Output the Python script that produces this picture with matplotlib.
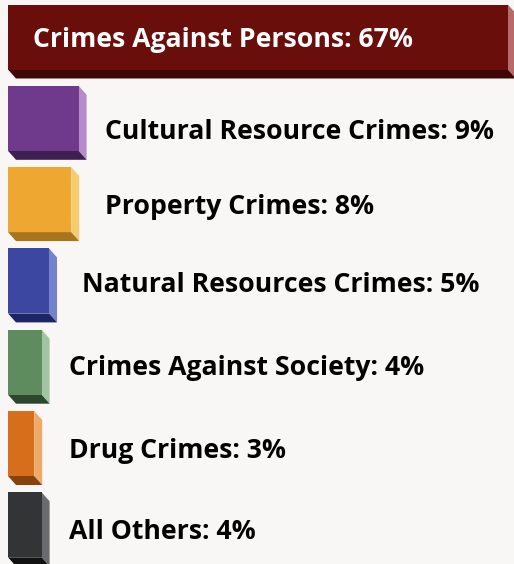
import numpy as np
import matplotlib
matplotlib.use("Agg")
import matplotlib.pyplot as plt
from matplotlib.patches import Polygon

# data
categories = [
    "Crimes Against Persons",
    "Cultural Resource Crimes",
    "Property Crimes",
    "Natural Resources Crimes",
    "Crimes Against Society",
    "Drug Crimes",
    "All Others",
]
shares = [67, 9, 8, 5, 4, 3, 4]

# colours: front face, right side, bottom
front_colors = ["#6a0e0c", "#6f3a8c", "#eea832", "#3c47a2", "#5e8c5e", "#d66e1c", "#333436"]
side_colors = ["#b86a6a", "#b48ccc", "#f5cc70", "#7482cc", "#a2c4a2", "#eeaa66", "#6a6b6e"]
bottom_colors = ["#3d0705", "#3e1f52", "#a8741c", "#1e2566", "#2c472c", "#8a420c", "#121212"]

# label placement (pixels) - hand tuned like the original
label_x_px = [33, 105, 105, 82, 69, 69, 69]
label_dy_px = [10, 21, 14, 11, 13, 14, 14]

W, H = 514, 564
PX_PER_PCT = 7.4
ZERO_PX = 12
ROW_PX = 81.3
BG = "#f8f7f5"

fig = plt.figure(figsize=(W / 100, H / 100), dpi=100, facecolor=BG)
ax = fig.add_axes([0, 0, 1, 1])
ax.set_facecolor(BG)
ax.set_xlim(-ZERO_PX / PX_PER_PCT, (W - ZERO_PX) / PX_PER_PCT)
ax.set_ylim((H - 37) / ROW_PX, -37 / ROW_PX)
ax.axis("off")

pad = 4 / PX_PER_PCT          # bars start a little left of zero
depth_x = 8 / PX_PER_PCT
depth_y = 9 / ROW_PX
bar_h = 65 / ROW_PX

ypos = np.arange(len(categories))
vals = np.array(shares, dtype=float)
bars = ax.barh(ypos, vals + pad, left=-pad, height=bar_h,
               color=front_colors, edgecolor="none", zorder=3)

for i, b in enumerate(bars):
    x0 = b.get_x()
    x1 = x0 + b.get_width()
    top = b.get_y()
    bot = top + b.get_height()
    side = Polygon([(x1, top), (x1 + depth_x, top + depth_y),
                    (x1 + depth_x, bot + depth_y), (x1, bot)],
                   closed=True, facecolor=side_colors[i], edgecolor="none", zorder=2)
    bottom = Polygon([(x0, bot), (x1, bot), (x1 + depth_x, bot + depth_y),
                      (x0 + depth_x, bot + depth_y)],
                     closed=True, facecolor=bottom_colors[i], edgecolor="none", zorder=2)
    ax.add_patch(side)
    ax.add_patch(bottom)

for i, (cat, v) in enumerate(zip(categories, shares)):
    tx = (label_x_px[i] - ZERO_PX) / PX_PER_PCT
    ty = i + label_dy_px[i] / ROW_PX
    ax.text(tx, ty, f"{cat}: {v}%", fontsize=19.2, fontweight="bold",
            family=["Open Sans", "DejaVu Sans"],
            color="white" if i == 0 else "black",
            ha="left", va="baseline", zorder=5)

fig.savefig("out.png", dpi=100, facecolor=BG)
